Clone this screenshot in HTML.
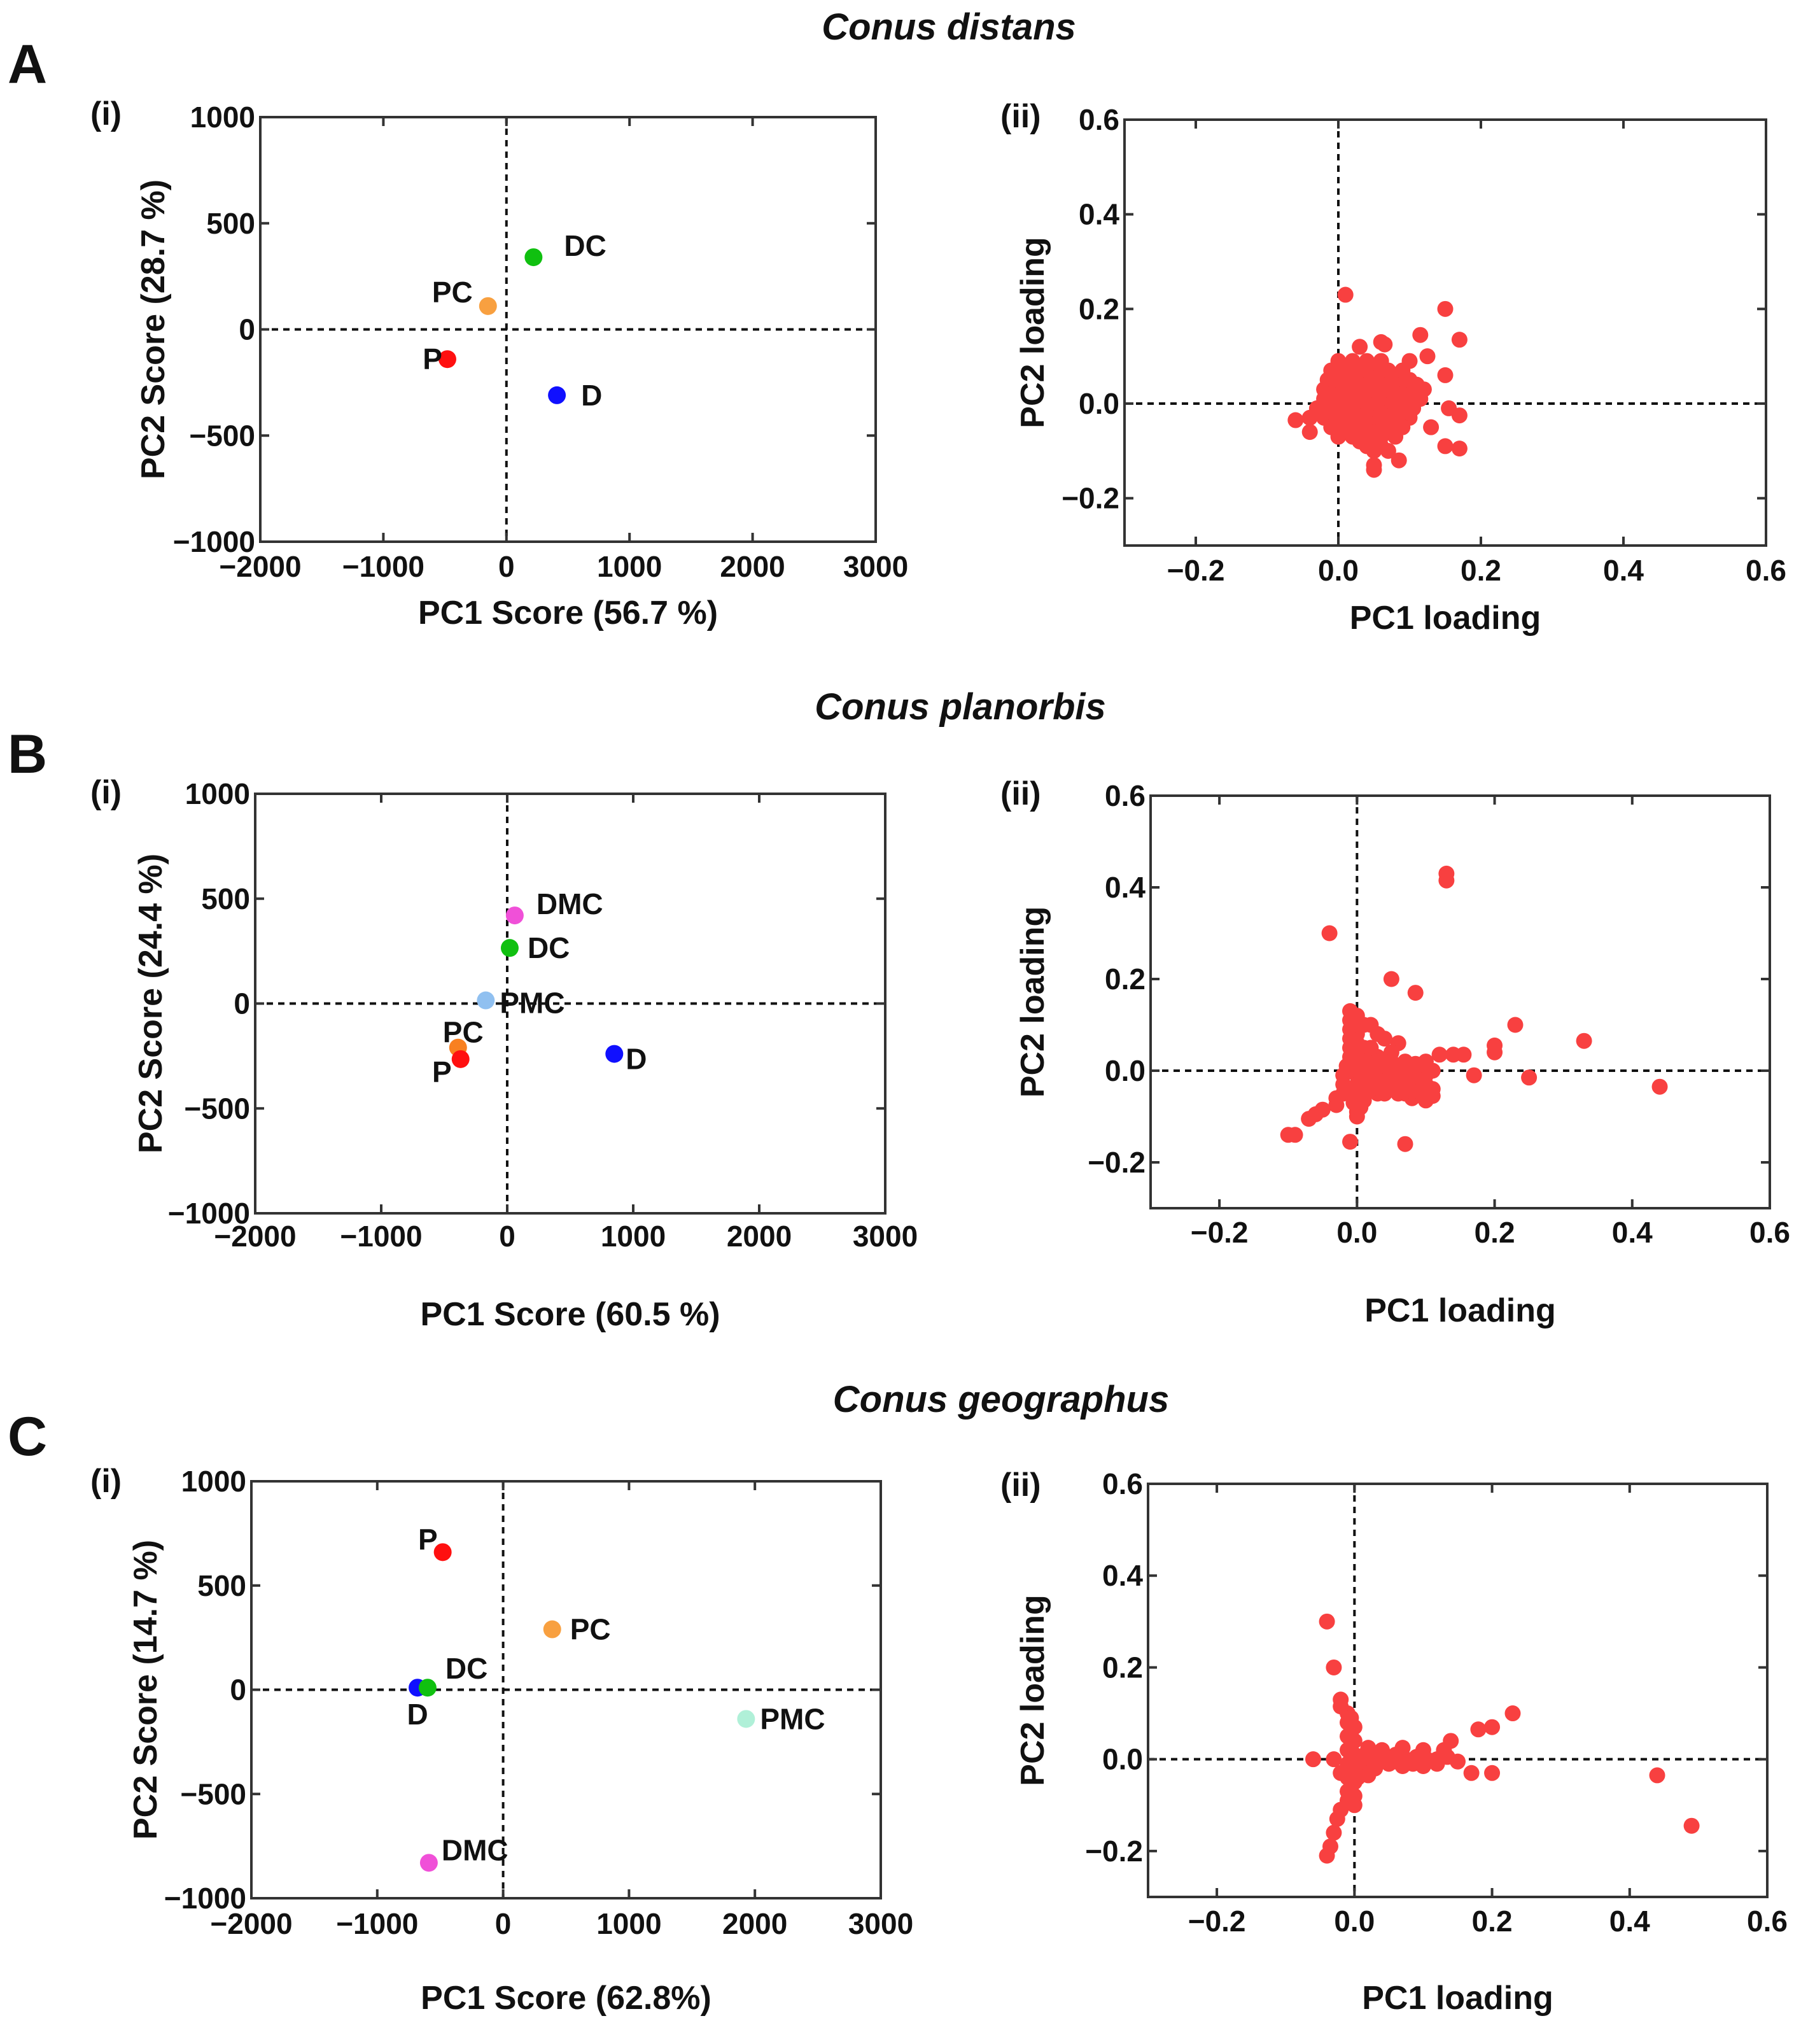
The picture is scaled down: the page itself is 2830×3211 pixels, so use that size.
<!DOCTYPE html>
<html><head><meta charset="utf-8"><style>
html,body{margin:0;padding:0;background:#fff;}
svg{display:block;}
text{font-family:"Liberation Sans",Arial,sans-serif;font-weight:bold;fill:#111;}
</style></head><body>
<svg id="fig" width="2830" height="3211" viewBox="0 0 2830 3211" xmlns="http://www.w3.org/2000/svg">
<text x="1491" y="62" font-size="58" font-style="italic" text-anchor="middle">Conus distans</text>
<text x="1509" y="1130" font-size="58" font-style="italic" text-anchor="middle">Conus planorbis</text>
<text x="1573" y="2218" font-size="58" font-style="italic" text-anchor="middle">Conus geographus</text>
<text x="12" y="130" font-size="86">A</text>
<text x="12" y="1214" font-size="86">B</text>
<text x="12" y="2286" font-size="86">C</text>
</svg>
<script>
// ---------- data ----------
const scoreXTicks = [-2000,-1000,0,1000,2000,3000];
const scoreYTicks = [-1000,-500,0,500,1000];
const loadXTicks = [-0.2,0.0,0.2,0.4,0.6];
const loadYTicks = [-0.2,0.0,0.2,0.4,0.6];

const scoreA_names = ["P","PC","DC","D"];
const scoreA_x = [-480,-150,220,410];
const scoreA_y = [-140,110,340,-310];
const scoreA_col = ["#ff1010","#f8a040","#10c010","#1010ff"];

const scoreB_names = ["DMC","DC","PMC","PC","P","D"];
const scoreB_x = [60,20,-170,-390,-370,850];
const scoreB_y = [420,265,15,-210,-265,-240];
const scoreB_col = ["#f050d8","#10c010","#90c0f0","#f88020","#ff1010","#1010ff"];

const scoreC_names = ["P","PC","D","DC","PMC","DMC"];
const scoreC_x = [-480,390,-680,-600,1930,-590];
const scoreC_y = [660,290,10,10,-140,-830];
const scoreC_col = ["#ff1010","#f8a040","#1010ff","#10c010","#b0f0d8","#f050d8"];

const loadA = [
 [0.01,0.23],[0.15,0.2],[0.17,0.135],[0.115,0.145],[0.125,0.1],[0.1,0.09],[0.15,0.06],[0.155,-0.01],[0.17,-0.025],[0.13,-0.05],[0.15,-0.09],[0.17,-0.095],[0.085,-0.12],[0.05,-0.13],[0.05,-0.14],[0.0,-0.07],[-0.04,-0.06],[-0.06,-0.035],[0.06,0.13],[0.03,0.12],[0.065,0.125],
 [0.0,0.09],[0.02,0.09],[0.04,0.09],[0.06,0.09],
 [-0.01,0.07],[0.01,0.07],[0.03,0.07],[0.05,0.07],[0.07,0.07],[0.09,0.07],
 [-0.015,0.05],[0.005,0.05],[0.025,0.05],[0.045,0.05],[0.065,0.05],[0.085,0.05],[0.1,0.05],
 [-0.02,0.03],[0.0,0.03],[0.02,0.03],[0.04,0.03],[0.06,0.03],[0.08,0.03],[0.1,0.03],[0.12,0.03],
 [-0.02,0.01],[0.0,0.01],[0.02,0.01],[0.04,0.01],[0.06,0.01],[0.08,0.01],[0.1,0.01],[0.115,0.01],
 [-0.03,-0.01],[-0.01,-0.01],[0.01,-0.01],[0.03,-0.01],[0.05,-0.01],[0.07,-0.01],[0.09,-0.01],[0.105,-0.01],
 [-0.04,-0.03],[-0.02,-0.03],[0.0,-0.03],[0.02,-0.03],[0.04,-0.03],[0.06,-0.03],[0.08,-0.03],[0.1,-0.03],
 [-0.01,-0.05],[0.01,-0.05],[0.03,-0.05],[0.05,-0.05],[0.07,-0.05],[0.09,-0.05],
 [0.02,-0.07],[0.04,-0.07],[0.06,-0.07],[0.08,-0.07],[0.04,-0.09],[0.06,-0.09],[0.07,-0.1],
 [0.01,0.08],[0.03,0.08],[0.05,0.08],[0.0,0.06],[0.02,0.06],[0.04,0.06],[0.06,0.06],[0.08,0.06],
 [-0.01,0.04],[0.01,0.04],[0.03,0.04],[0.05,0.04],[0.07,0.04],[0.09,0.04],[0.11,0.04],
 [-0.01,0.02],[0.01,0.02],[0.03,0.02],[0.05,0.02],[0.07,0.02],[0.09,0.02],[0.11,0.02],
 [-0.02,0.0],[0.0,0.0],[0.02,0.0],[0.04,0.0],[0.06,0.0],[0.08,0.0],[0.1,0.0],
 [-0.02,-0.02],[0.0,-0.02],[0.02,-0.02],[0.04,-0.02],[0.06,-0.02],[0.08,-0.02],[0.1,-0.02],
 [0.0,-0.04],[0.02,-0.04],[0.04,-0.04],[0.06,-0.04],[0.08,-0.04],
 [0.01,-0.06],[0.03,-0.06],[0.05,-0.06],[0.07,-0.06],[0.03,-0.08],[0.05,-0.08],[0.05,-0.1]
];
const loadB = [
 [0.13,0.43],[0.13,0.415],[-0.04,0.3],[0.05,0.2],[0.085,0.17],[0.23,0.1],[0.33,0.065],[0.44,-0.035],[0.25,-0.015],[0.17,-0.01],[0.2,0.04],[0.2,0.055],[0.155,0.035],[0.12,0.035],[0.14,0.035],
 [-0.1,-0.14],[-0.09,-0.14],[-0.07,-0.105],[-0.06,-0.095],[-0.05,-0.085],[-0.01,-0.155],[0.07,-0.16],[-0.03,-0.075],
 [-0.01,0.13],[-0.01,0.11],[0.0,0.12],[0.01,0.1],[0.02,0.1],[0.03,0.08],[0.04,0.07],[0.06,0.06],[0.05,0.04],
 [-0.01,0.09],[0.0,0.08],[-0.01,0.07],[0.0,0.06],[-0.01,0.05],[0.01,0.05],[-0.01,0.03],[0.01,0.03],[0.03,0.03],
 [-0.015,0.01],[0.005,0.01],[0.025,0.01],[0.045,0.01],[0.065,0.01],[0.085,0.015],[0.1,0.02],
 [-0.02,-0.01],[0.0,-0.01],[0.02,-0.01],[0.04,-0.01],[0.06,-0.01],[0.08,-0.01],[0.1,-0.01],[0.11,0.0],
 [-0.02,-0.03],[0.0,-0.03],[0.02,-0.03],[0.04,-0.03],[0.06,-0.03],[0.08,-0.03],[0.1,-0.03],[0.11,-0.04],
 [-0.01,-0.05],[0.01,-0.05],[0.03,-0.05],[0.07,-0.05],[0.09,-0.05],[0.11,-0.055],[0.1,-0.065],[0.08,-0.06],
 [-0.005,-0.07],[0.005,-0.08],[0.0,-0.09],[0.0,-0.1],[0.01,-0.065],
 [0.01,0.0],[0.03,0.0],[0.05,0.0],[0.07,0.0],[0.09,0.0],[0.01,-0.02],[0.03,-0.02],[0.05,-0.02],[0.07,-0.02],[0.09,-0.02],
 [0.01,0.02],[0.03,0.02],[0.05,0.02],[0.07,0.02],[0.02,-0.04],[0.05,-0.04],[0.08,-0.045],[0.0,0.1],[0.0,0.04],[0.02,0.05],
 [-0.02,-0.05],[-0.03,-0.06],[0.04,-0.05],[0.06,-0.05]
];
const loadC = [
 [-0.04,0.3],[-0.03,0.2],[-0.02,0.13],[-0.02,0.115],[-0.06,0.0],[0.23,0.1],[0.2,0.07],[0.18,0.065],[0.14,0.04],[0.44,-0.035],[0.49,-0.145],[0.17,-0.03],[0.2,-0.03],
 [-0.04,-0.21],[-0.035,-0.19],[-0.03,-0.16],[-0.025,-0.13],[-0.02,-0.11],
 [-0.01,0.1],[-0.01,0.08],[0.0,0.07],[-0.01,0.05],[0.0,0.04],[-0.01,0.02],[0.0,0.01],[-0.01,-0.01],[0.0,-0.02],[-0.01,-0.04],[0.0,-0.05],[-0.01,-0.07],[0.0,-0.08],[-0.01,-0.09],[0.0,-0.1],
 [0.015,0.01],[0.03,0.005],[0.045,0.0],[0.06,0.01],[0.075,0.0],[0.09,0.005],[0.105,0.0],[0.12,0.0],[0.135,0.005],
 [0.015,-0.015],[0.03,-0.02],[0.05,-0.01],[0.07,-0.015],[0.085,-0.01],[0.1,-0.015],[0.12,-0.01],[0.15,-0.005],
 [0.02,0.025],[0.04,0.02],[0.07,0.025],[0.1,0.02],[0.13,0.02],[0.02,-0.035],[-0.03,0.0],[-0.02,-0.03],
 [-0.005,0.09],[-0.005,0.06],[-0.005,0.03],[-0.005,0.0],[-0.005,-0.03],[-0.005,-0.06],[0.005,-0.04],[0.01,0.0],[0.025,0.0],[0.06,-0.005],[0.09,-0.005]
];

// ---------- drawing ----------
const NS = "http://www.w3.org/2000/svg";
const svg = document.getElementById('fig');
function mk(tag, attrs, parent){
  const e = document.createElementNS(NS, tag);
  for (const k in attrs) e.setAttribute(k, attrs[k]);
  (parent||svg).appendChild(e);
  return e;
}
function fmtScore(v){ return v<0 ? "\u2212"+Math.abs(v) : String(v); }
function fmtLoad(v){ const s=Math.abs(v).toFixed(1); return v<0 ? "\u2212"+s : s; }

function axes(p){
  const g = mk('g', {});
  
  
  const sx = v => p.L + (v - p.xmin)/(p.xmax - p.xmin)*(p.R - p.L);
  const sy = v => p.B - (v - p.ymin)/(p.ymax - p.ymin)*(p.B - p.T);
  const fr = mk('rect', {x:p.L,y:p.T,width:p.R-p.L,height:p.B-p.T,fill:'none',stroke:'#333','stroke-width':4}, g);
  
  
  const zh = mk('line', {x1:p.L,x2:p.R,y1:sy(0),y2:sy(0),stroke:'#111','stroke-width':4,'stroke-dasharray':'10 8'}, g);
  
  
  const zv = mk('line', {x1:sx(0),x2:sx(0),y1:p.T,y2:p.B,stroke:'#111','stroke-width':4,'stroke-dasharray':'10 8'}, g);
  
  
  p.xt.forEach(v=>{
    const x = sx(v);
    mk('line',{x1:x,x2:x,y1:p.B,y2:p.B-14,stroke:'#333','stroke-width':4},g);
    mk('line',{x1:x,x2:x,y1:p.T,y2:p.T+14,stroke:'#333','stroke-width':4},g);
    const t = mk('text',{x:x,y:p.xtY,'font-size':46,'text-anchor':'middle'},g);
    
    
    t.textContent = p.fmt(v);
  });
  p.yt.forEach(v=>{
    const y = sy(v);
    mk('line',{x1:p.L,x2:p.L+14,y1:y,y2:y,stroke:'#333','stroke-width':4},g);
    mk('line',{x1:p.R,x2:p.R-14,y1:y,y2:y,stroke:'#333','stroke-width':4},g);
    const t = mk('text',{x:p.L-8,y:y+16,'font-size':46,'text-anchor':'end'},g);
    
    
    t.textContent = p.fmt(v);
  });
  const xtl = mk('text',{x:(p.L+p.R)/2,y:p.xTitleY,'font-size':52,'text-anchor':'middle'},g);
  
  
  xtl.textContent = p.xTitle;
  const ytl = mk('text',{x:0,y:0,'font-size':52,'text-anchor':'middle',transform:`translate(${p.yTitleX},${(p.T+p.B)/2}) rotate(-90)`},g);
  
  
  ytl.textContent = p.yTitle;
  const sub = mk('text',{x:p.subX,y:p.subY,'font-size':52},g);
  
  
  sub.textContent = p.sub;
  return {g, sx, sy};
}

function scorePanel(p, names, xs, ys, cols, labelPos){
  const a = axes(Object.assign({xmin:-2000,xmax:3000,ymin:-1000,ymax:1000,xt:scoreXTicks,yt:scoreYTicks,fmt:fmtScore,sub:'(i)'}, p));
  names.forEach((n,i)=>{
    const cx = a.sx(xs[i]), cy = a.sy(ys[i]);
    const c = mk('circle',{cx:cx,cy:cy,r:14,fill:cols[i]},a.g);
    
    
    const lp = labelPos[i];
    const t = mk('text',{x:cx+lp[0],y:cy+lp[1],'font-size':46,'text-anchor':lp[2]},a.g);
    
    
    t.textContent = n;
  });
}
function loadPanel(p, pts){
  const a = axes(Object.assign({xmin:-0.3,xmax:0.6,ymin:-0.3,ymax:0.6,xt:loadXTicks,yt:loadYTicks,fmt:fmtLoad,sub:'(ii)',xTitle:'PC1 loading',yTitle:'PC2 loading'}, p));
  pts.forEach(pt=>{
    const c = mk('circle',{cx:a.sx(pt[0]),cy:a.sy(pt[1]),r:12.5,fill:'#f84040'},a.g);
    
    
  });
}

scorePanel({name:'panel-a-scores',L:409,R:1376,T:184,B:851,xtY:906,xTitleY:980,yTitleX:258,xTitle:'PC1 Score (56.7 %)',yTitle:'PC2 Score (28.7 %)',subX:142,subY:196},
  scoreA_names, scoreA_x, scoreA_y, scoreA_col,
  [[-8,16,'end'],[-24,-6,'end'],[48,-2,'start'],[38,16,'start']]);
loadPanel({name:'panel-a-loadings',L:1767,R:2775,T:188,B:857,xtY:912,xTitleY:988,yTitleX:1640,subX:1572,subY:200}, loadA);

scorePanel({name:'panel-b-scores',L:401,R:1391,T:1247,B:1906,xtY:1958,xTitleY:2082,yTitleX:254,xTitle:'PC1 Score (60.5 %)',yTitle:'PC2 Score (24.4 %)',subX:142,subY:1262},
  scoreB_names, scoreB_x, scoreB_y, scoreB_col,
  [[34,-2,'start'],[28,16,'start'],[22,20,'start'],[-24,-8,'start'],[-14,36,'end'],[18,24,'start']]);
loadPanel({name:'panel-b-loadings',L:1808,R:2781,T:1250,B:1898,xtY:1952,xTitleY:2076,yTitleX:1640,subX:1572,subY:1264}, loadB);

scorePanel({name:'panel-c-scores',L:395,R:1384,T:2327,B:2982,xtY:3038,xTitleY:3156,yTitleX:246,xTitle:'PC1 Score (62.8%)',yTitle:'PC2 Score (14.7 %)',subX:142,subY:2344},
  scoreC_names, scoreC_x, scoreC_y, scoreC_col,
  [[-8,-4,'end'],[28,16,'start'],[0,58,'middle'],[28,-14,'start'],[22,16,'start'],[20,-4,'start']]);
loadPanel({name:'panel-c-loadings',L:1804,R:2777,T:2331,B:2980,xtY:3034,xTitleY:3156,yTitleX:1640,subX:1572,subY:2350}, loadC);
</script>
</body></html>
